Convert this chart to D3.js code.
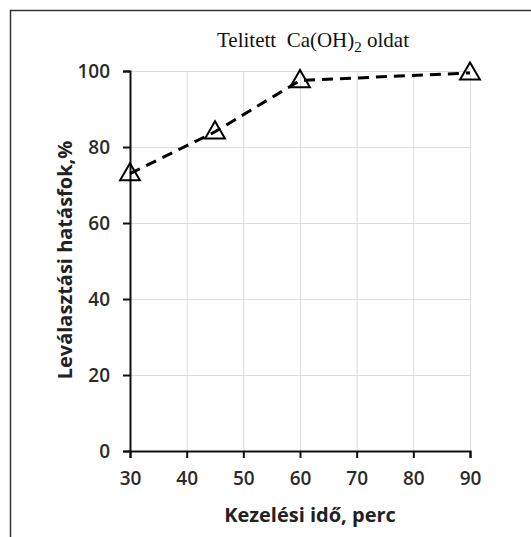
<!DOCTYPE html>
<html>
<head>
<meta charset="utf-8">
<script src="https://cdn.jsdelivr.net/npm/d3@7"></script>
<style>
  body { margin: 0; background: #fff; }
  .tick text { font-family: "Open Sans", sans-serif; font-weight: 600; font-size: 19px; fill: #2b2b2b; }
  .grid line { stroke: #dcdcdc; stroke-width: 1; }
  .grid path { display: none; }
</style>
</head>
<body>
<div id="chart"></div>
<script>
// svg params
var svgWidth = 531;
var svgHeight = 537;
var margin = { top: 71, right: 61, bottom: 86, left: 130 };
var chartHeight = svgHeight - margin.top - margin.bottom;
var chartWidth = svgWidth - margin.left - margin.right;

// data
var times = [30, 45, 60, 90];
var efficiency = [73, 84, 97.5, 99.5];
var xTicks = [30, 40, 50, 60, 70, 80, 90];
var yTicks = [0, 20, 40, 60, 80, 100];

var svg = d3.select("#chart")
    .append("svg")
    .attr("width", svgWidth)
    .attr("height", svgHeight);

// outer frame (top and left edges visible)
svg.append("path")
    .attr("d", "M10.5,537 L10.5,10.5 L531,10.5")
    .attr("fill", "none")
    .attr("stroke", "#333")
    .attr("stroke-width", 1.5);

var chartGroup = svg.append("g")
    .attr("transform", `translate(${margin.left}, ${margin.top})`);

var xScale = d3.scaleLinear().domain([30, 90]).range([0, chartWidth]);
var yScale = d3.scaleLinear().domain([0, 100]).range([chartHeight, 0]);

// gridlines
chartGroup.append("g")
    .attr("class", "grid")
    .call(d3.axisBottom(xScale).tickValues(xTicks).tickSize(chartHeight).tickFormat(""));
chartGroup.append("g")
    .attr("class", "grid")
    .attr("transform", `translate(${chartWidth}, 0)`)
    .call(d3.axisLeft(yScale).tickValues(yTicks.slice(1)).tickSize(chartWidth).tickFormat(""));

// axes
var bottomAxis = d3.axisBottom(xScale).tickValues(xTicks).tickSize(7).tickPadding(14);
var leftAxis = d3.axisLeft(yScale).tickValues(yTicks).tickSize(7).tickPadding(13);

var xAxisG = chartGroup.append("g")
    .attr("transform", `translate(0, ${chartHeight})`)
    .call(bottomAxis);
var yAxisG = chartGroup.append("g")
    .call(leftAxis);

[xAxisG, yAxisG].forEach(g => {
    g.select(".domain").attr("stroke", "#111").attr("stroke-width", 2);
    g.selectAll(".tick line").attr("stroke", "#111").attr("stroke-width", 2);
});

// dashed line
var points = times.map((t, i) => [t, efficiency[i]]);
var line = d3.line()
    .x(d => xScale(d[0]))
    .y(d => yScale(d[1]));

chartGroup.append("path")
    .datum(points)
    .attr("d", line)
    .attr("fill", "none")
    .attr("stroke", "#000")
    .attr("stroke-width", 3)
    .attr("stroke-dasharray", "11,7");

// triangle markers
var tri = d3.symbol().type(d3.symbolTriangle).size(170);
chartGroup.selectAll(".marker")
    .data(points)
    .enter()
    .append("path")
    .attr("class", "marker")
    .attr("d", tri)
    .attr("transform", d => `translate(${xScale(d[0])}, ${yScale(d[1]) + 1})`)
    .attr("fill", "none")
    .attr("stroke", "#000")
    .attr("stroke-width", 2);

// title
var title = svg.append("text")
    .attr("x", 313)
    .attr("y", 47)
    .attr("text-anchor", "middle")
    .style("font-family", "'Liberation Serif', 'DejaVu Serif', serif")
    .style("font-size", "21px")
    .style("fill", "#111");
title.append("tspan").text("Telitett\u00a0\u00a0Ca(OH)");
title.append("tspan").attr("dy", 5).style("font-size", "15px").text("2");
title.append("tspan").attr("dy", -5).text(" oldat");

// axis titles
svg.append("text")
    .attr("x", 310)
    .attr("y", 522)
    .attr("text-anchor", "middle")
    .style("font-family", "'Open Sans', sans-serif")
    .style("font-weight", "bold")
    .style("font-size", "20px")
    .style("fill", "#222")
    .text("Kezelési idő, perc");

svg.append("text")
    .attr("transform", "translate(72, 260) rotate(-90)")
    .attr("text-anchor", "middle")
    .style("font-family", "'Open Sans', sans-serif")
    .style("font-weight", "bold")
    .style("font-size", "20px")
    .style("fill", "#222")
    .text("Leválasztási hatásfok,%");
</script>
</body>
</html>
